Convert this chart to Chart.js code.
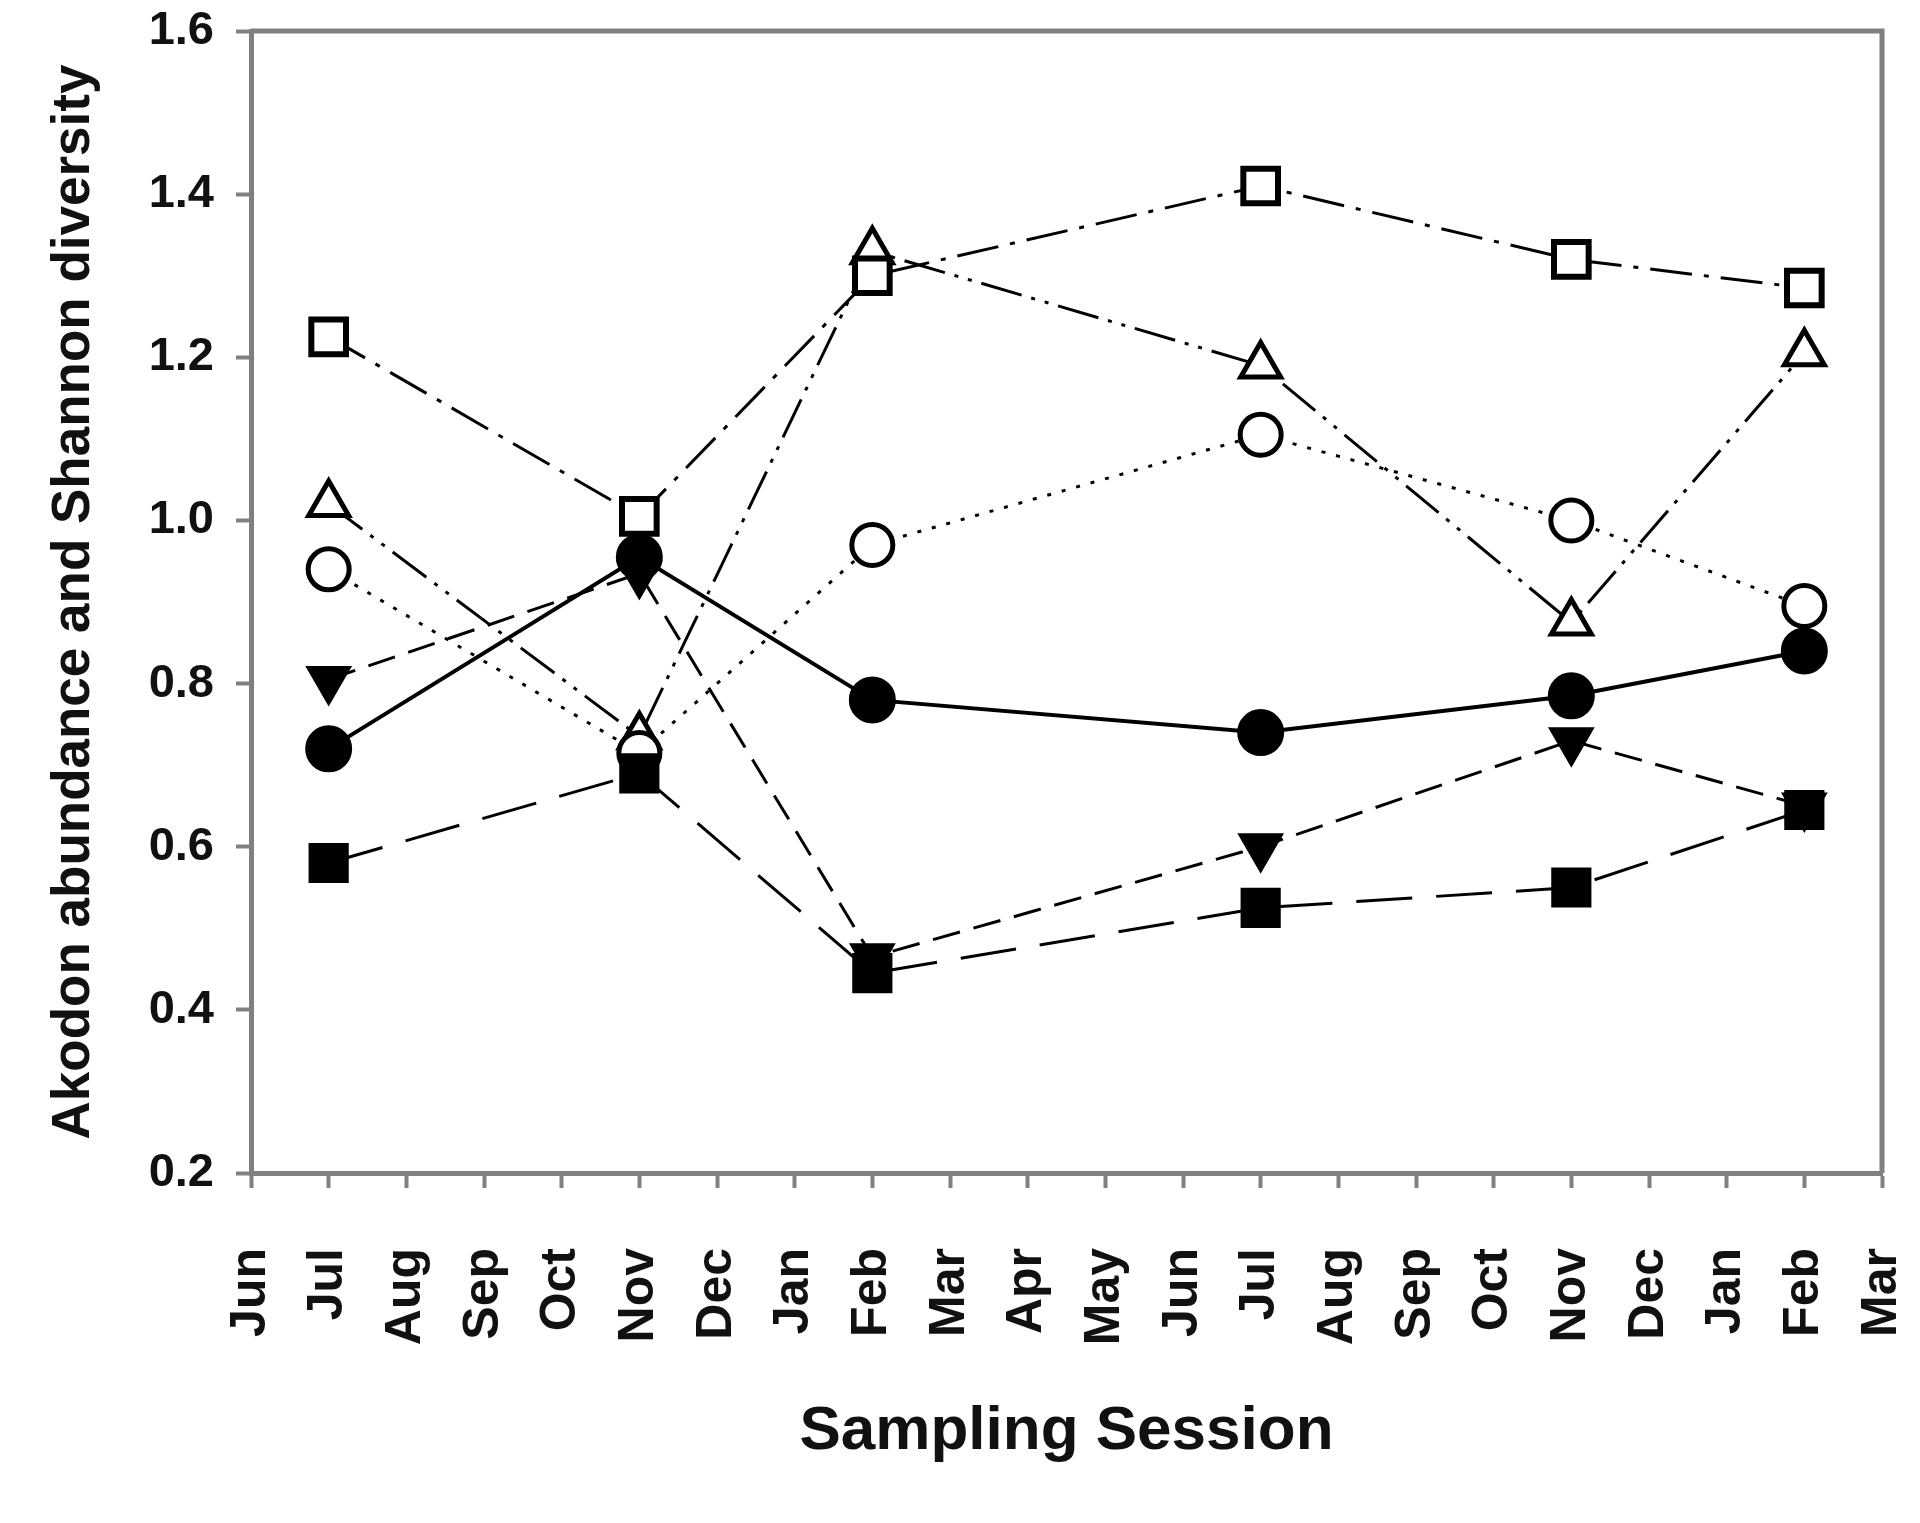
<!DOCTYPE html>
<html>
<head>
<meta charset="utf-8">
<script src="https://cdn.jsdelivr.net/npm/chart.js@4.4.0/dist/chart.umd.min.js"></script>
<style>
  html, body { margin: 0; padding: 0; background: #fff; }
  #wrap { width: 1920px; height: 1523px; }
</style>
</head>
<body>
<div id="wrap"><canvas id="chart"></canvas></div>
<script>
// x axis: one tick per month, Jun .. Mar of the following year
const monthLabels = ['Jun', 'Jul', 'Aug', 'Sep', 'Oct', 'Nov', 'Dec', 'Jan', 'Feb', 'Mar', 'Apr', 'May',
  'Jun', 'Jul', 'Aug', 'Sep', 'Oct', 'Nov', 'Dec', 'Jan', 'Feb', 'Mar'];
// sampling sessions (Jul, Nov, Feb, Jul, Nov, Feb) as month positions
const sessionIdx = [1, 5, 8, 13, 17, 20];

// series values
const openSquare     = [1.225, 1.005, 1.30, 1.41, 1.32, 1.285];
const openTriangle   = [1.02, 0.735, 1.33, 1.19, 0.875, 1.205];
const openCircle     = [0.94, 0.715, 0.97, 1.105, 1.00, 0.895];
const filledCircle   = [0.72, 0.955, 0.78, 0.74, 0.785, 0.84];
const filledTriangle = [0.805, 0.935, 0.465, 0.60, 0.73, 0.65];
const filledSquare   = [0.58, 0.69, 0.445, 0.525, 0.55, 0.645];

const fontFamily = "'Liberation Sans', Arial, sans-serif";
const axisGrey = '#808080';
const textColor = '#111';

function series(label, values, style) {
  return Object.assign({
    label: label,
    data: values.map((v, i) => ({ x: sessionIdx[i], y: v })),
    borderColor: '#000',
    borderWidth: 3,
    pointBorderColor: '#000',
    tension: 0,
    fill: false
  }, style);
}

// dataset 0 is painted last (on top)
const datasets = [
  series('filled square', filledSquare, {
    pointStyle: 'rect', pointRadius: 27, pointBorderWidth: 2, pointBackgroundColor: '#000',
    borderDash: [56, 24]
  }),
  series('filled triangle', filledTriangle, {
    pointStyle: 'triangle', pointRotation: 180, pointRadius: 25, pointBorderWidth: 2, pointBackgroundColor: '#000',
    borderDash: [28, 14]
  }),
  series('filled circle', filledCircle, {
    pointStyle: 'circle', pointRadius: 22.5, pointBorderWidth: 2, pointBackgroundColor: '#000',
    borderWidth: 4
  }),
  series('open square', openSquare, {
    pointStyle: 'rect', pointRadius: 24.5, pointBorderWidth: 6, pointBackgroundColor: '#fff',
    borderDash: [42, 12, 5, 12]
  }),
  series('open circle', openCircle, {
    pointStyle: 'circle', pointRadius: 20.5, pointBorderWidth: 5, pointBackgroundColor: '#fff',
    borderDash: [4, 11]
  }),
  series('open triangle', openTriangle, {
    pointStyle: 'triangle', pointRadius: 23, pointBorderWidth: 5, pointBackgroundColor: '#fff',
    borderDash: [42, 10, 4, 10, 4, 10]
  })
];

// top and right sides of the plot frame
const frame = {
  id: 'frame',
  beforeDatasetsDraw(chart) {
    const { ctx, chartArea: a } = chart;
    ctx.save();
    ctx.strokeStyle = axisGrey;
    ctx.lineWidth = 5;
    ctx.beginPath();
    ctx.moveTo(a.left, a.top);
    ctx.lineTo(a.right, a.top);
    ctx.lineTo(a.right, a.bottom);
    ctx.stroke();
    ctx.restore();
  }
};

new Chart(document.getElementById('chart'), {
  type: 'line',
  data: { datasets: datasets },
  plugins: [frame],
  options: {
    responsive: true,
    maintainAspectRatio: false,
    animation: false,
    layout: { padding: { top: 31, right: 38, left: 0, bottom: 0 } },
    plugins: { legend: { display: false }, tooltip: { enabled: false } },
    scales: {
      x: {
        type: 'linear',
        min: 0,
        max: 21,
        ticks: {
          stepSize: 1,
          autoSkip: false,
          minRotation: 90,
          maxRotation: 90,
          padding: 60,
          color: textColor,
          font: { family: fontFamily, size: 50, weight: 'bold' },
          callback: v => monthLabels[v] || ''
        },
        grid: { drawOnChartArea: false, tickLength: 15, tickWidth: 4, tickColor: axisGrey },
        border: { color: axisGrey, width: 5 },
        title: {
          display: true,
          text: 'Sampling Session',
          color: textColor,
          font: { family: fontFamily, size: 62, weight: 'bold' },
          padding: { top: 0, bottom: 54 }
        },
        afterFit: s => {
          s.height = 350;
          s.paddingLeft = 0;
          s.paddingRight = 0;
        }
      },
      y: {
        min: 0.2,
        max: 1.6,
        ticks: {
          stepSize: 0.2,
          padding: 22,
          color: textColor,
          font: { family: fontFamily, size: 47, weight: 'bold' },
          callback: v => v.toFixed(1)
        },
        grid: { drawOnChartArea: false, tickLength: 15, tickWidth: 4, tickColor: axisGrey },
        border: { color: axisGrey, width: 5 },
        title: {
          display: true,
          text: 'Akodon abundance and Shannon diversity',
          color: textColor,
          font: { family: fontFamily, size: 53, weight: 'bold' },
          padding: { top: 43, bottom: 0 }
        },
        afterFit: s => {
          s.width = 251;
          s.paddingTop = 0;
          s.paddingBottom = 0;
        }
      }
    }
  }
});
</script>
</body>
</html>
